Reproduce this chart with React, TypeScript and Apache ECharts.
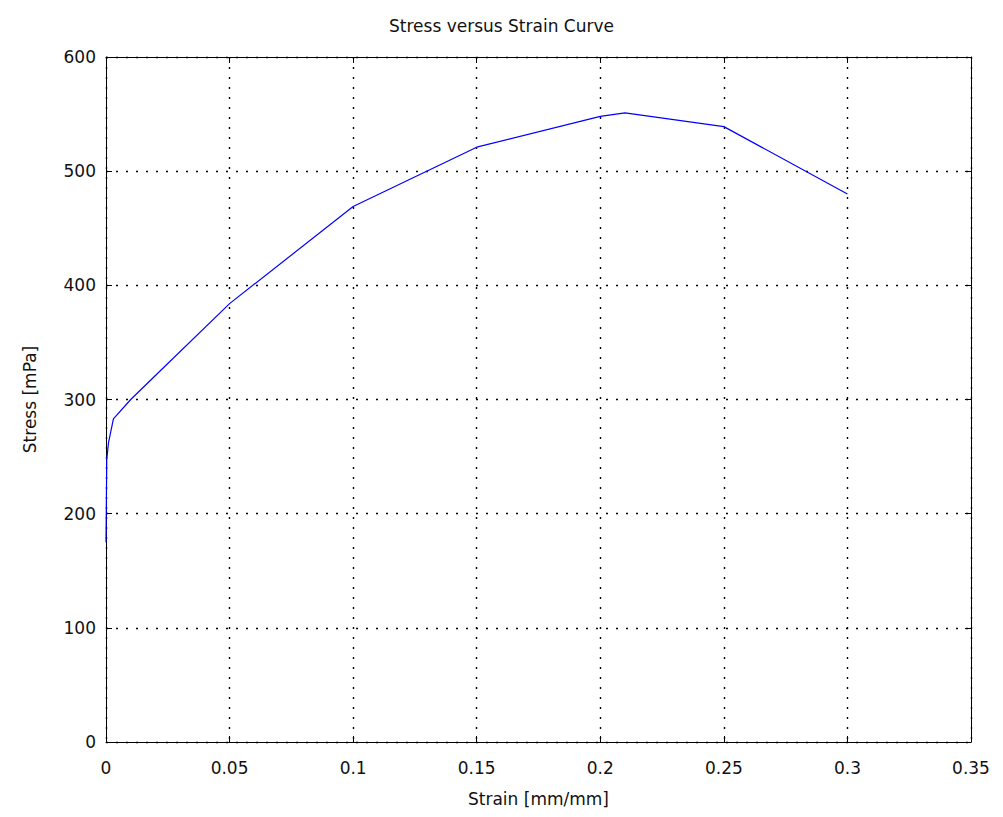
import React, { useEffect, useRef } from "react";
import * as echarts from "echarts";

const strain = [0, 0.0003, 0.001, 0.003, 0.01, 0.02, 0.05, 0.1, 0.15, 0.2, 0.21, 0.25, 0.3];
const stress = [175, 247, 262, 283, 300, 321, 384, 469, 521, 548, 551, 539, 480];
const xTicks = { min: 0, max: 0.35, interval: 0.05 };
const yTicks = { min: 0, max: 600, interval: 100 };

const FONT = "DejaVu Sans, Verdana, sans-serif";

export default function App() {
  const ref = useRef<HTMLDivElement>(null);
  useEffect(() => {
    if (!ref.current) return;
    const chart = echarts.init(ref.current, undefined, { renderer: "svg" });
    const axisLine = { show: true, onZero: false, lineStyle: { color: "#000", width: 1 } };
    const tick = { show: true, inside: true, length: 6, lineStyle: { color: "#000", width: 1 } };
    const textStyle = { fontFamily: FONT, fontSize: 17, color: "#111" };
    chart.setOption({
      animation: false,
      backgroundColor: "#fff",
      title: {
        text: "Stress versus Strain Curve",
        left: "center",
        top: 12,
        textStyle: { ...textStyle, fontWeight: "normal" },
      },
      grid: { left: 106, right: 32, top: 57, bottom: 75 },
      xAxis: [
        {
          type: "value",
          position: "bottom",
          ...xTicks,
          axisLine,
          axisTick: tick,
          axisLabel: {
            margin: 17,
            ...textStyle,
            formatter: (v: number) => String(+v.toFixed(2)),
          },
          splitLine: { show: true, lineStyle: { type: [2, 8], width: 1.4, color: "#000" } },
          name: "Strain [mm/mm]",
          nameLocation: "middle",
          nameGap: 48,
          nameTextStyle: textStyle,
        },
        {
          type: "value",
          position: "top",
          ...xTicks,
          axisLine,
          axisTick: tick,
          axisLabel: { show: false },
          splitLine: { show: false },
        },
      ],
      yAxis: [
        {
          type: "value",
          position: "left",
          ...yTicks,
          axisLine,
          axisTick: tick,
          axisLabel: { margin: 10, ...textStyle },
          splitLine: { show: true, lineStyle: { type: [2, 8], width: 1.4, color: "#000" } },
          name: "Stress [mPa]",
          nameLocation: "middle",
          nameGap: 68,
          nameTextStyle: textStyle,
        },
        {
          type: "value",
          position: "right",
          ...yTicks,
          axisLine,
          axisTick: tick,
          axisLabel: { show: false },
          splitLine: { show: false },
        },
      ],
      series: [
        {
          type: "line",
          data: strain.map((s, i) => [s, stress[i]]),
          showSymbol: false,
          lineStyle: { color: "#0000ff", width: 1.2 },
          xAxisIndex: 0,
          yAxisIndex: 0,
        },
      ],
    });
    return () => chart.dispose();
  }, []);
  return (
    <div
      ref={ref}
      style={{ position: "fixed", left: 0, top: 0, width: 1003, height: 817, background: "#fff" }}
    />
  );
}
